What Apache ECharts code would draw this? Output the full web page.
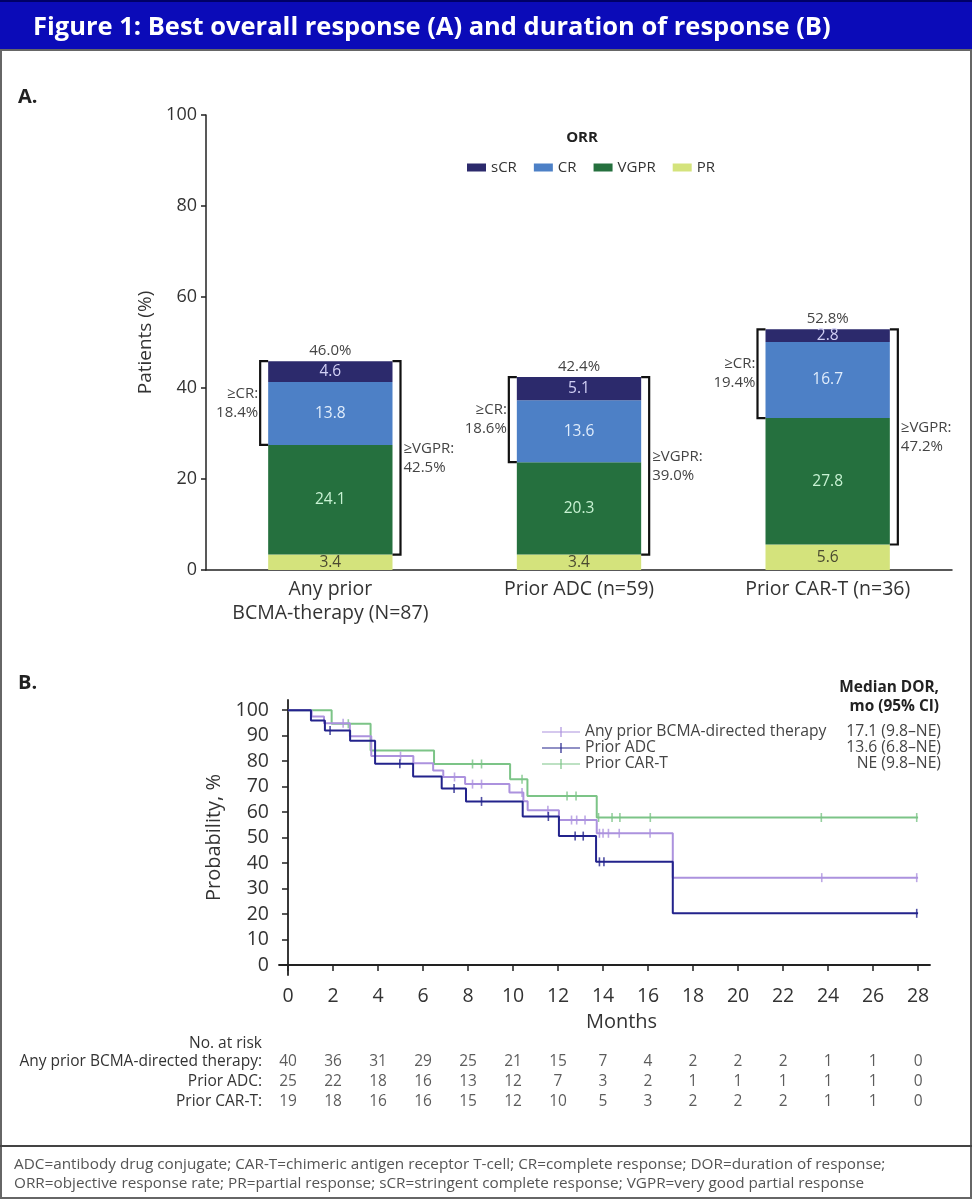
<!DOCTYPE html>
<html><head><meta charset="utf-8">
<script src="https://cdn.jsdelivr.net/npm/echarts@6/dist/echarts.min.js"></script>
<style>html,body{margin:0;padding:0;background:#fff}#c{width:972px;height:1200px}</style>
</head><body><div id="c"></div>
<script>
// ---------- Panel A data ----------
const categories = ['Any prior\nBCMA-therapy (N=87)', 'Prior ADC (n=59)', 'Prior CAR-T (n=36)'];
const prVals = [3.4, 3.4, 5.6];
const vgprVals = [24.1, 20.3, 27.8];
const crVals = [13.8, 13.6, 16.7];
const scrVals = [4.6, 5.1, 2.8];
const orrPct = ['46.0%', '42.4%', '52.8%'];
const geCrPct = ['18.4%', '18.6%', '19.4%'];
const geVgprPct = ['42.5%', '39.0%', '47.2%'];

// ---------- Panel B data ----------
const kmNames = ['Any prior BCMA-directed therapy', 'Prior ADC', 'Prior CAR-T'];
const medianDor = ['17.1 (9.8\u2013NE)', '13.6 (6.8\u2013NE)', 'NE (9.8\u2013NE)'];
const anyT = [0, 1.05, 1.6, 2.75, 3.7, 5.57, 6.45, 6.9, 7.87, 9.84, 10.46, 10.65, 12.04, 13.72, 17.1, 28];
const anyS = [100, 97.5, 94.9, 89.8, 82.0, 79.2, 76.3, 73.8, 71.0, 67.7, 64.3, 60.7, 56.9, 51.7, 34.3, 34.3];
const adcT = [0, 1.02, 1.64, 2.76, 3.87, 5.56, 6.83, 7.91, 10.43, 12.04, 13.69, 17.1, 28];
const adcS = [100, 96, 92, 88, 79, 74, 69.3, 64.2, 58.3, 50.6, 40.5, 20.3, 20.3];
const cartT = [0, 1.94, 3.67, 6.49, 9.87, 10.64, 13.72, 28];
const cartS = [100, 94.7, 84.2, 78.9, 72.9, 66.3, 57.9, 57.9];
const anyCens = [2.45, 5.0, 7.4, 8.2, 8.6, 10.4, 11.55, 12.6, 12.83, 13.2, 13.84, 14.0, 14.24, 14.72, 16.09, 23.72, 27.94];
const adcCens = [1.87, 4.97, 7.38, 8.6, 11.57, 12.76, 13.12, 13.84, 14.04, 27.94];
const cartCens = [2.68, 8.2, 8.6, 10.4, 12.4, 12.8, 13.8, 14.4, 14.75, 16.1, 23.7, 27.94];
const monthTicks = [0, 2, 4, 6, 8, 10, 12, 14, 16, 18, 20, 22, 24, 26, 28];
const probTicks = [0, 10, 20, 30, 40, 50, 60, 70, 80, 90, 100];

// ---------- Risk table ----------
const riskRows = ['Any prior BCMA-directed therapy', 'Prior ADC', 'Prior CAR-T'];
const riskMonths = [0, 2, 4, 6, 8, 10, 12, 14, 16, 18, 20, 22, 24, 26, 28];
const riskAny = [40, 36, 31, 29, 25, 21, 15, 7, 4, 2, 2, 2, 1, 1, 0];
const riskADC = [25, 22, 18, 16, 13, 12, 7, 3, 2, 1, 1, 1, 1, 1, 0];
const riskCART = [19, 18, 16, 16, 15, 12, 10, 5, 3, 2, 2, 2, 1, 1, 0];

const FONT = '"Open Sans", "Noto Sans", sans-serif';
const colScr = '#2c2a6c', colCr = '#4d80c6', colVgpr = '#25703e', colPr = '#d4e37c';
const colAny = '#ac92de', colAdc = '#23238c', colCart = '#7cc487';

function pairs(t, s) { return t.map((v, i) => [v, s[i]]); }
function survAt(t, s, x) { let k = 0; for (let i = 0; i < t.length; i++) { if (t[i] <= x) k = i; } return s[k]; }
function cens(t, s, c) { return c.map(x => [x, survAt(t, s, x)]); }

const chart = echarts.init(document.getElementById('c'), null, { renderer: 'canvas' });

function barSeries(name, vals, color, labelColor) {
  return {
    name: name, type: 'bar', stack: 'orr', xAxisIndex: 0, yAxisIndex: 0,
    barWidth: '50%', data: vals, itemStyle: { color: color },
    label: { show: true, position: 'inside', color: labelColor, fontSize: 15.5, fontFamily: FONT,
      formatter: p => p.value.toFixed(1) },
    z: 2
  };
}

const bracketData = categories.map((c, i) => [i, prVals[i], prVals[i] + vgprVals[i], prVals[i] + vgprVals[i] + crVals[i] + scrVals[i]]);

const kmLine = (name, t, s, color, z) => ({
  name: name, type: 'line', step: 'end', xAxisIndex: 1, yAxisIndex: 1,
  data: pairs(t, s), showSymbol: false, symbol: 'none',
  lineStyle: { color: color, width: 2 }, itemStyle: { color: color }, z: z
});
const kmCens = (name, data, color, z) => ({
  name: name + ' censored', type: 'scatter', xAxisIndex: 1, yAxisIndex: 1,
  data: data, symbol: 'rect', symbolSize: [1.6, 9], itemStyle: { color: color }, z: z
});

const riskSeries = [];
[riskAny, riskADC, riskCART].forEach((arr, r) => {
  riskSeries.push({
    type: 'scatter', xAxisIndex: 2, yAxisIndex: 2, symbolSize: 0,
    data: arr.map((n, i) => [riskMonths[i], riskRows[r], n]),
    label: { show: true, position: 'inside', formatter: p => String(p.value[2]), color: '#333', fontSize: 15.5, fontFamily: FONT }
  });
});

const option = {
  animation: false,
  backgroundColor: '#ffffff',
  textStyle: { fontFamily: FONT },
  grid: [
    { left: 206, right: 20, top: 115, bottom: 630 },
    { left: 279, right: 42, top: 700, bottom: 225 },
    { left: 279, right: 42, top: 1052, height: 60 }
  ],
  legend: [
    {
      data: ['sCR', 'CR', 'VGPR', 'PR'], left: 462, top: 155, itemWidth: 19, itemHeight: 8, itemGap: 17,
      icon: 'rect', selectedMode: false, textStyle: { fontSize: 15, color: '#333', fontFamily: FONT }
    },
    {
      data: kmNames, left: 537, top: 719, orient: 'vertical', itemWidth: 38, itemHeight: 10, itemGap: 0,
      icon: 'path://M0,4.4H38V5.6H0Z M18.4,0H19.6V10H18.4Z', selectedMode: false,
      formatter: name => '{n|' + name + '}{v|' + medianDor[kmNames.indexOf(name)] + '}',
      textStyle: {
        fontFamily: FONT, fontSize: 15.7, color: '#444',
        rich: {
          n: { width: 258, fontSize: 15.7, color: '#444', fontFamily: FONT, lineHeight: 19 },
          v: { width: 98, align: 'right', fontSize: 15.7, color: '#444', fontFamily: FONT, lineHeight: 19 }
        }
      }
    }
  ],
  xAxis: [
    {
      gridIndex: 0, type: 'category', data: categories,
      axisLine: { lineStyle: { color: '#222', width: 1.5 } },
      axisTick: { alignWithLabel: true, length: 5, lineStyle: { color: '#222', width: 1.5 } },
      axisLabel: { interval: 0, hideOverlap: false, fontSize: 19.5, color: '#333', margin: 7, lineHeight: 24, fontFamily: FONT }
    },
    {
      gridIndex: 1, type: 'value', min: -0.4, max: 28.53,
      axisLine: { show: true, lineStyle: { color: '#222', width: 1.8 } },
      axisTick: { show: true, customValues: monthTicks, length: 6, lineStyle: { color: '#222', width: 1.5 } },
      axisLabel: { customValues: monthTicks, fontSize: 19.5, color: '#333', margin: 11, fontFamily: FONT },
      splitLine: { show: false },
      name: 'Months', nameLocation: 'middle', nameGap: 37,
      nameTextStyle: { fontSize: 20, color: '#333', fontFamily: FONT, padding: [0, 0, 0, 34] }
    },
    { gridIndex: 2, type: 'value', min: -0.4, max: 28.53, show: false }
  ],
  yAxis: [
    {
      gridIndex: 0, type: 'value', min: 0, max: 100, interval: 20,
      axisLine: { show: true, lineStyle: { color: '#222', width: 1.5 } },
      axisTick: { show: true, length: 5, lineStyle: { color: '#222', width: 1.5 } },
      axisLabel: { fontSize: 18, color: '#333', margin: 9, fontFamily: FONT },
      splitLine: { show: false },
      name: 'Patients (%)', nameLocation: 'middle', nameGap: 50,
      nameTextStyle: { fontSize: 19, color: '#333', fontFamily: FONT }
    },
    {
      gridIndex: 1, type: 'value', min: -3.9, max: 104,
      axisLine: { show: true, lineStyle: { color: '#222', width: 1.8 } },
      axisTick: { show: true, customValues: probTicks, length: 6, lineStyle: { color: '#222', width: 1.5 } },
      axisLabel: { customValues: probTicks, fontSize: 19.5, color: '#333', margin: 10, fontFamily: FONT },
      splitLine: { show: false },
      name: 'Probability, %', nameLocation: 'middle', nameGap: 55,
      nameTextStyle: { fontSize: 20, color: '#333', fontFamily: FONT }
    },
    {
      gridIndex: 2, type: 'category', data: riskRows, inverse: true,
      axisLine: { show: false }, axisTick: { show: false }, splitLine: { show: false },
      axisLabel: { interval: 0, hideOverlap: false, formatter: v => v + ':', fontSize: 15.5, color: '#333', margin: 17, fontFamily: FONT }
    }
  ],
  series: [
    barSeries('PR', prVals, colPr, '#4a4a30'),
    barSeries('VGPR', vgprVals, colVgpr, '#c8f2d3'),
    barSeries('CR', crVals, colCr, '#e0ecfb'),
    barSeries('sCR', scrVals, colScr, '#d2d0f5'),
    {
      type: 'custom', xAxisIndex: 0, yAxisIndex: 0, data: bracketData, z: 5,
      renderItem: function (params, api) {
        const i = api.value(0);
        const pr = api.value(1), vg = api.value(2), top = api.value(3);
        const c = api.coord([i, top]);
        const cx = c[0], yTop = c[1];
        const yV = api.coord([i, pr])[1];
        const yC = api.coord([i, vg])[1];
        const bw = api.size([1, 0])[0] * 0.5;
        const xl = cx - bw / 2, xr = cx + bw / 2, d = 8;
        const ls = { stroke: '#111', lineWidth: 2.2, fill: null };
        const ts = { fontSize: 15, fontFamily: FONT, fill: '#444', lineHeight: 19 };
        return {
          type: 'group', children: [
            { type: 'polyline', shape: { points: [[xl, yTop], [xl - d, yTop], [xl - d, yC], [xl, yC]] }, style: ls },
            { type: 'polyline', shape: { points: [[xr, yTop], [xr + d, yTop], [xr + d, yV], [xr, yV]] }, style: ls },
            { type: 'text', style: Object.assign({ text: '\u2265CR:\n' + geCrPct[i], x: xl - d - 2, y: (yTop + yC) / 2, align: 'right', verticalAlign: 'middle' }, ts) },
            { type: 'text', style: Object.assign({ text: '\u2265VGPR:\n' + geVgprPct[i], x: xr + d + 3, y: (yTop + yV) / 2, align: 'left', verticalAlign: 'middle' }, ts) },
            { type: 'text', style: Object.assign({ text: orrPct[i], x: cx, y: yTop - 1, align: 'center', verticalAlign: 'bottom' }, ts) }
          ]
        };
      }
    },
    kmLine(kmNames[2], cartT, cartS, colCart, 3),
    kmLine(kmNames[0], anyT, anyS, colAny, 4),
    kmLine(kmNames[1], adcT, adcS, colAdc, 5),
    kmCens(kmNames[2], cens(cartT, cartS, cartCens), colCart, 3),
    kmCens(kmNames[0], cens(anyT, anyS, anyCens), colAny, 4),
    kmCens(kmNames[1], cens(adcT, adcS, adcCens), colAdc, 5)
  ].concat(riskSeries),
  graphic: [
    { type: 'rect', shape: { x: 0, y: 0, width: 972, height: 50 }, style: { fill: '#0b0bb8' }, z: -1 },
    { type: 'rect', shape: { x: 0, y: 0, width: 972, height: 2 }, style: { fill: '#000066' } },
    { type: 'text', style: { text: 'Figure 1: Best overall response (A) and duration of response (B)', x: 33, y: 28, verticalAlign: 'middle', fontSize: 25.5, fontWeight: 'bold', fontFamily: FONT, fill: '#ffffff' } },
    { type: 'rect', shape: { x: 1, y: 50, width: 970, height: 1148 }, style: { fill: null, stroke: '#666', lineWidth: 2 } },
    { type: 'line', shape: { x1: 0, y1: 1146, x2: 972, y2: 1146 }, style: { stroke: '#444', lineWidth: 2 } },
    { type: 'text', style: { text: 'A.', x: 18, y: 97, verticalAlign: 'middle', fontSize: 20, fontWeight: 'bold', fontFamily: FONT, fill: '#222' } },
    { type: 'text', style: { text: 'B.', x: 18, y: 683, verticalAlign: 'middle', fontSize: 20, fontWeight: 'bold', fontFamily: FONT, fill: '#222' } },
    { type: 'text', style: { text: 'ORR', x: 582, y: 138, align: 'center', verticalAlign: 'middle', fontSize: 15, fontWeight: 'bold', fontFamily: FONT, fill: '#222' } },
    { type: 'text', style: { text: 'Median DOR,\nmo (95% CI)', x: 939, y: 697, align: 'right', verticalAlign: 'middle', fontSize: 15.4, fontWeight: 'bold', lineHeight: 19, fontFamily: FONT, fill: '#222' } },
    { type: 'text', style: { text: 'No. at risk', x: 262, y: 1044, align: 'right', verticalAlign: 'middle', fontSize: 15.5, fontFamily: FONT, fill: '#333' } },
    { type: 'text', style: { text: 'ADC=antibody drug conjugate; CAR-T=chimeric antigen receptor T-cell; CR=complete response; DOR=duration of response;\nORR=objective response rate; PR=partial response; sCR=stringent complete response; VGPR=very good partial response', x: 14, y: 1174, verticalAlign: 'middle', fontSize: 15.3, lineHeight: 19, fontFamily: FONT, fill: '#555' } }
  ]
};
chart.setOption(option);
</script>
</body></html>
